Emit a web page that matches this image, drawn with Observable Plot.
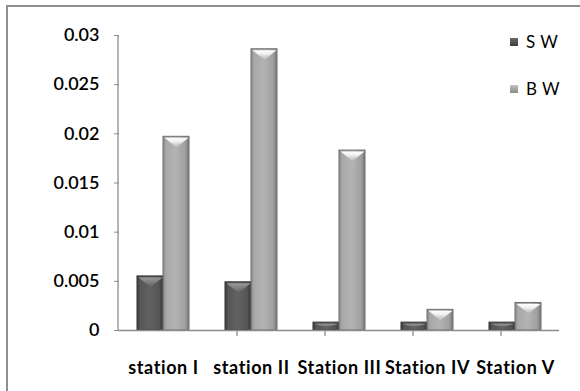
<!DOCTYPE html>
<html>
<head>
<meta charset="utf-8">
<script src="https://cdn.jsdelivr.net/npm/d3@7"></script>
<script src="https://cdn.jsdelivr.net/npm/@observablehq/plot@0.6"></script>
<style>
  body { margin: 0; background: #fff; }
  #wrap { position: relative; width: 580px; height: 391px; overflow: hidden; font-family: Lato, "Open Sans", sans-serif; }
  #border { position: absolute; left: 6px; top: 5px; width: 620px; height: 420px; border: 2px solid #8e8e8e; box-sizing: border-box; pointer-events: none; }
  .legend { position: absolute; left: 510px; font-size: 17px; letter-spacing: 0.4px; color: #000; display: flex; align-items: center; }
  .legend .sw { width: 8px; height: 8px; margin-right: 8px; }
  #chart g[aria-label="fx-axis tick label"] text { letter-spacing: 0.6px; }
</style>
</head>
<body>
<div id="wrap">
  <div id="chart"></div>
  <div id="border"></div>
  <div class="legend" style="top:31px"><span class="sw" style="background:linear-gradient(#6a6a6a,#3e3e3e)"></span>S W</div>
  <div class="legend" style="top:78px"><span class="sw" style="background:linear-gradient(#c4c4c4,#8a8a8a)"></span>B W</div>
</div>
<script>
// Stations along the x axis
const stations = ["station I", "station II", "Station III", "Station IV", "Station V"];
// The two sampled series
const series = ["S W", "B W"];
const swValues = [0.0055, 0.0049, 0.0008, 0.0008, 0.0008];
const bwValues = [0.0197, 0.0286, 0.0183, 0.0021, 0.0028];
// Y axis tick values
const yTicks = [0, 0.005, 0.01, 0.015, 0.02, 0.025, 0.03];

const rows = stations.flatMap((station, i) => [
  {station, series: "S W", value: swValues[i]},
  {station, series: "B W", value: bwValues[i]}
]);

const axisGray = "#8c8c8c";

// Downward-pointing bevel highlight drawn on the top of each bar
function bevelSymbol(depth) {
  return {
    draw(context, size) {
      const r = Math.sqrt(size / Math.PI);
      context.moveTo(-r, 0);
      context.lineTo(r, 0);
      context.lineTo(0, r * depth);
      context.closePath();
    }
  };
}
const tall = rows.filter(d => d.value >= 0.0015);
const short = rows.filter(d => d.value < 0.0015);
const capFill = d => d.series === "S W" ? "url(#cap-sw)" : "url(#cap-bw)";

const plot = Plot.plot({
  width: 580,
  height: 391,
  marginLeft: 118,
  marginRight: 21,
  marginTop: 35,
  marginBottom: 61,
  style: {fontFamily: "Lato, 'Open Sans', sans-serif", background: "transparent", color: "#000"},
  fx: {domain: stations, padding: 0, label: null},
  x: {domain: series, paddingInner: 0, paddingOuter: 0.69, axis: null},
  y: {domain: [0, 0.03], label: null},
  color: {domain: series, range: ["url(#grad-sw)", "url(#grad-bw)"]},
  marks: [
    Plot.axisY({ticks: yTicks, tickFormat: d => String(d), tickSize: 5, tickPadding: 15,
                stroke: axisGray, fill: "#000", fontSize: 18, fontWeight: 600, label: null}),
    Plot.axisFx({anchor: "bottom", tickSize: 0, tickPadding: 31, fontSize: 18, fontWeight: 700, label: null}),
    Plot.barY(rows, {fx: "station", x: "series", y: "value", fill: "series",
                     stroke: d => d.series === "S W" ? "#333" : "#6e6e6e", strokeWidth: 1}),
    Plot.dot(tall, {fx: "station", x: "series", y: "value", r: 12, dy: 1,
                    symbol: bevelSymbol(0.8), fill: capFill, stroke: "none"}),
    Plot.dot(short, {fx: "station", x: "series", y: "value", r: 12, dy: 1,
                     symbol: bevelSymbol(0.3), fill: capFill, stroke: "none"}),
    Plot.ruleY([0], {stroke: axisGray, strokeWidth: 1.3})
  ]
});

// Bevelled bar fills
const svg = d3.select(plot);
const defs = svg.insert("defs", ":first-child");
function grad(id, stops, vertical) {
  const g = defs.append("linearGradient").attr("id", id)
    .attr("x1", 0).attr("y1", 0).attr("x2", vertical ? 0 : 1).attr("y2", vertical ? 1 : 0);
  stops.forEach(([o, c, a = 1]) => g.append("stop").attr("offset", o).attr("stop-color", c).attr("stop-opacity", a));
}
grad("grad-sw", [[0, "#3c3c3c"], [0.12, "#575757"], [0.5, "#616161"], [0.85, "#555"], [1, "#383838"]]);
grad("grad-bw", [[0, "#8a8a8a"], [0.12, "#a8a8a8"], [0.5, "#b3b3b3"], [0.85, "#a0a0a0"], [1, "#767676"]]);
grad("cap-bw", [[0, "#ffffff", 1], [0.4, "#f2f2f2", 0.95], [1, "#c4c4c4", 0.5]], true);
grad("cap-sw", [[0, "#9a9a9a", 1], [0.5, "#858585", 0.85], [1, "#6a6a6a", 0.4]], true);

// Y axis line and category boundary ticks, placed with the plot's own scales
const fx = plot.scale("fx");
const y = plot.scale("y");
const bw = fx.bandwidth;
const x0 = 118;
const y0 = y.apply(0);
svg.append("line").attr("x1", x0).attr("x2", x0).attr("y1", y.apply(0.03)).attr("y2", y0)
  .attr("stroke", axisGray).attr("stroke-width", 1.3);
const bounds = stations.map(s => x0 + fx.apply(s)).concat([x0 + fx.apply(stations[stations.length - 1]) + bw]);
bounds.forEach(bx => svg.append("line").attr("x1", bx).attr("x2", bx).attr("y1", y0).attr("y2", y0 + 6)
  .attr("stroke", axisGray).attr("stroke-width", 1.3));

document.getElementById("chart").appendChild(plot);
</script>
</body>
</html>
